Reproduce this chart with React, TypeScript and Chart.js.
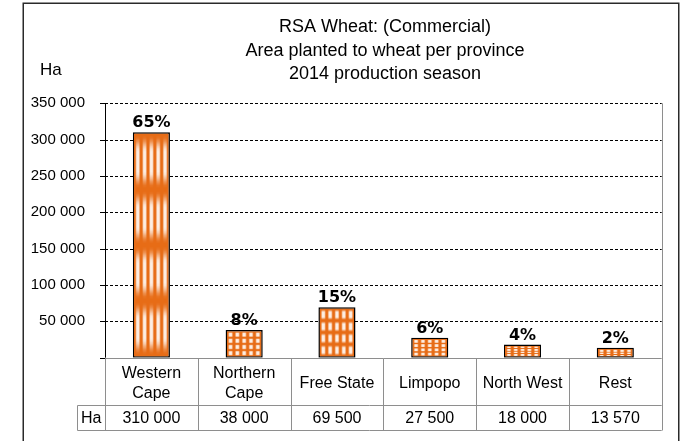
import React, { useEffect, useRef } from "react";
import { Chart, registerables } from "chart.js";

Chart.register(...registerables);

// ---- data ----
const categories: string[][] = [
  ["Western", "Cape"],
  ["Northern", "Cape"],
  ["Free State"],
  ["Limpopo"],
  ["North West"],
  ["Rest"],
];
const areaHa: number[] = [310000, 38000, 69500, 27500, 18000, 13570];
const sharePct: number[] = [65, 8, 15, 6, 4, 2];
const yMax = 350000;
const yStep = 50000;
const titleLines: string[] = [
  "RSA Wheat: (Commercial)",
  "Area planted to wheat per province",
  "2014 production season",
];
const yAxisTitle = "Ha";
const tableRowLabel = "Ha";

const SANS = "'Liberation Sans', Arial, sans-serif";
const BOLD = "bold 16px 'DejaVu Sans', Verdana, sans-serif";
const GREY = "#8e8e8e";

function fmt(n: number): string {
  return String(n).replace(/\B(?=(\d{3})+(?!\d))/g, " ");
}

// Stretched "picture fill": 5 x 4 cells, white centres fading into orange
function makeFillImage(): HTMLCanvasElement {
  const cw = 20, ch = 20, cols = 5, rows = 4;
  const c = document.createElement("canvas");
  c.width = cw * cols;
  c.height = ch * rows;
  const g = c.getContext("2d")!;
  const img = g.createImageData(c.width, c.height);
  const o = [231, 108, 22];
  const sm = (a: number, b: number, x: number) => {
    const t = Math.min(1, Math.max(0, (x - a) / (b - a)));
    return t * t * (3 - 2 * t);
  };
  for (let py = 0; py < c.height; py++) {
    for (let px = 0; px < c.width; px++) {
      const u = ((px % cw) + 0.5) / cw;
      const v = ((py % ch) + 0.5) / ch;
      const dx = Math.abs(u - 0.5) * 2;
      const dy = Math.abs(v - 0.5) * 2;
      const wx = 1 - sm(0.2, 0.85, dx);
      const wy = 1 - sm(0.35, 0.95, dy);
      const w = wx * wy * 0.93;
      const i = (py * c.width + px) * 4;
      img.data[i] = o[0] + (255 - o[0]) * w;
      img.data[i + 1] = o[1] + (248 - o[1]) * w;
      img.data[i + 2] = o[2] + (242 - o[2]) * w;
      img.data[i + 3] = 255;
    }
  }
  g.putImageData(img, 0, 0);
  return c;
}

function line(ctx: CanvasRenderingContext2D, x1: number, y1: number, x2: number, y2: number) {
  ctx.beginPath();
  ctx.moveTo(x1, y1);
  ctx.lineTo(x2, y2);
  ctx.stroke();
}

export default function App() {
  const ref = useRef<HTMLCanvasElement>(null);

  useEffect(() => {
    const fillImg = makeFillImage();

    const decor = {
      id: "decor",
      beforeDraw(chart: any) {
        const ctx: CanvasRenderingContext2D = chart.ctx;
        ctx.save();
        ctx.fillStyle = "#fff";
        ctx.fillRect(0, 0, chart.width, chart.height);
        // outer frame
        ctx.strokeStyle = "#2a2a2a";
        ctx.lineWidth = 1.5;
        ctx.strokeRect(23.25, 3.25, 655.5, 470);
        // title
        ctx.fillStyle = "#000";
        ctx.font = `18px ${SANS}`;
        ctx.textAlign = "center";
        ctx.textBaseline = "alphabetic";
        const base = [32.3, 56.3, 79.3];
        titleLines.forEach((t, i) => ctx.fillText(t, 385, base[i]));
        // y axis title
        ctx.font = `17px ${SANS}`;
        ctx.textAlign = "left";
        ctx.fillText(yAxisTitle, 40, 75);
        ctx.restore();
      },
      beforeDatasetsDraw(chart: any) {
        const ctx: CanvasRenderingContext2D = chart.ctx;
        const { left, right, top, bottom } = chart.chartArea;
        const y = chart.scales.y;
        const x = chart.scales.x;
        ctx.save();
        // dashed grid
        ctx.strokeStyle = "#000";
        ctx.lineWidth = 1;
        ctx.setLineDash([3, 2]);
        y.ticks.forEach((t: any) => {
          if (t.value === 0) return;
          const py = Math.round(y.getPixelForValue(t.value)) + 0.5;
          line(ctx, left, py, right, py);
        });
        ctx.setLineDash([]);
        // tick marks
        y.ticks.forEach((t: any) => {
          const py = Math.round(y.getPixelForValue(t.value)) + 0.5;
          line(ctx, left - 5, py, left, py);
        });
        // y axis line
        line(ctx, Math.round(left) + 0.5, top, Math.round(left) + 0.5, bottom);

        // table / grey lines
        ctx.strokeStyle = GREY;
        const rowTop = Math.round(bottom) + 0.5;
        const row2 = 405.5;
        const row3 = 430.5;
        const hdrL = 77.5;
        line(ctx, left, rowTop, right, rowTop);
        line(ctx, hdrL, row2, right, row2);
        line(ctx, hdrL, row3, right, row3);
        line(ctx, hdrL, row2, hdrL, row3);
        const n = categories.length;
        const cw = (right - left) / n;
        for (let i = 0; i <= n; i++) {
          const px = Math.round(left + i * cw) + 0.5;
          line(ctx, px, i === n ? top : rowTop, px, row3);
        }
        // category labels and values
        ctx.fillStyle = "#000";
        ctx.font = `16px ${SANS}`;
        ctx.textAlign = "center";
        ctx.textBaseline = "middle";
        categories.forEach((lines, i) => {
          const cx = x.getPixelForValue(i);
          const lh = 20;
          const y0 = 383.3 - ((lines.length - 1) * lh) / 2;
          lines.forEach((l, k) => ctx.fillText(l, cx, y0 + k * lh));
          ctx.fillText(fmt(areaHa[i]), cx, 418.5);
        });
        ctx.fillText(tableRowLabel, (hdrL + left) / 2, 418.5);
        ctx.restore();
      },
      afterDatasetsDraw(chart: any) {
        const ctx: CanvasRenderingContext2D = chart.ctx;
        const meta = chart.getDatasetMeta(0);
        ctx.save();
        meta.data.forEach((el: any, i: number) => {
          const p = el.getProps(["x", "y", "base", "width"], true);
          const bw = 1.5;
          const l = p.x - p.width / 2 + bw;
          const t = p.y + bw;
          const w = p.width - 2 * bw;
          const h = p.base - p.y - 2 * bw;
          ctx.imageSmoothingEnabled = true;
          ctx.drawImage(fillImg, l, t, w, h);
          ctx.fillStyle = "#000";
          ctx.font = BOLD;
          ctx.textAlign = "center";
          ctx.textBaseline = "alphabetic";
          ctx.fillText(`${sharePct[i]}%`, p.x, p.y - 5);
        });
        ctx.restore();
      },
    };

    const chart = new Chart(ref.current!, {
      type: "bar",
      data: {
        labels: categories.map((c) => c.join(" ")),
        datasets: [
          {
            data: areaHa,
            backgroundColor: "#e76c16",
            borderColor: "#000",
            borderWidth: 1.5,
            borderSkipped: false,
            barPercentage: 0.4,
            categoryPercentage: 1,
          },
        ],
      },
      options: {
        responsive: false,
        animation: false,
        devicePixelRatio: 1,
        layout: { padding: { top: 103.3, right: 18.3, bottom: 83.3, left: 0 } },
        plugins: { legend: { display: false }, title: { display: false }, tooltip: { enabled: false } },
        scales: {
          x: { type: "category", display: false, offset: true },
          y: {
            min: 0,
            max: yMax,
            grid: { display: false, drawTicks: false },
            border: { display: false },
            ticks: {
              stepSize: yStep,
              padding: 20,
              color: "#000",
              font: { family: SANS, size: 15 },
              callback: (v: any) => (Number(v) === 0 ? "" : fmt(Number(v))),
            },
            afterFit: (s: any) => {
              s.width = 105;
            },
          },
        },
      },
      plugins: [decor],
    } as any);
    return () => chart.destroy();
  }, []);

  return (
    <div style={{ position: "fixed", left: 0, top: 0, width: 680, height: 441, background: "#fff" }}>
      <canvas ref={ref} width={680} height={441} style={{ display: "block" }} />
    </div>
  );
}
